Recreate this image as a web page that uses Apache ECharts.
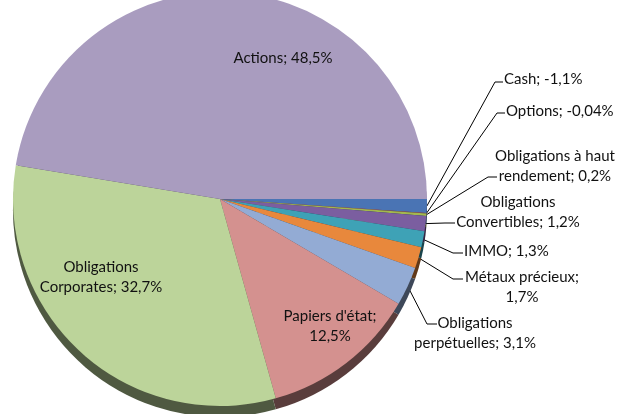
<!DOCTYPE html>
<html>
<head>
<meta charset="utf-8">
<script src="https://cdn.jsdelivr.net/npm/echarts@6/dist/echarts.min.js"></script>
<style>
  html, body { margin: 0; padding: 0; background: #fff; }
  #chart { width: 618px; height: 414px; }
</style>
</head>
<body>
<div id="chart"></div>
<script>
// slices in clockwise order, starting at 3 o'clock (as in the Excel chart)
const categories = ['Cash', 'Options', 'Obligations à haut rendement', 'Obligations Convertibles', 'IMMO',
  'Métaux précieux', 'Obligations perpétuelles', "Papiers d'état", 'Obligations Corporates', 'Actions'];
const weights = [-1.1, -0.04, 0.2, 1.2, 1.3, 1.7, 3.1, 12.5, 32.7, 48.5];
const weightLabels = ['-1,1%', '-0,04%', '0,2%', '1,2%', '1,3%', '1,7%', '3,1%', '12,5%', '32,7%', '48,5%'];
// how the category names wrap in the labels
const labelNames = ['Cash', 'Options', 'Obligations à haut\nrendement', 'Obligations\nConvertibles', 'IMMO',
  'Métaux précieux', 'Obligations\nperpétuelles', "Papiers d'état", 'Obligations\nCorporates', 'Actions'];
const breakAfterName = [false, false, false, false, false, true, false, true, false, false];

const colors = ['#4a74b4', '#c0504d', '#a3b84e', '#7b5ea0', '#3ea2b6', '#e8883c', '#93abd4', '#d4918f', '#bcd49a', '#a99cbf'];

// label placement (x, y, align) and leader tick [x0, x1, y] for outside labels
const labelPlace = [
  { x: 504, y: 79, align: 'left', tick: [495, 503, 82] },
  { x: 506, y: 111, align: 'left', tick: [497, 505, 113] },
  { x: 555, y: 166, align: 'center', tick: [488, 497, 177] },
  { x: 518, y: 212, align: 'center', tick: [445, 455, 223] },
  { x: 464, y: 251, align: 'left', tick: [453, 463, 253] },
  { x: 522, y: 287, align: 'center', tick: [453, 463, 279] },
  { x: 475, y: 333, align: 'center', tick: [427, 437, 324] },
  { x: 330, y: 326, align: 'center' },
  { x: 101, y: 277, align: 'center' },
  { x: 283, y: 58, align: 'center' }
];

function darken(hex, k) {
  const n = parseInt(hex.slice(1), 16);
  const r = Math.round(((n >> 16) & 255) * k);
  const g = Math.round(((n >> 8) & 255) * k);
  const b = Math.round((n & 255) * k);
  return 'rgb(' + r + ',' + g + ',' + b + ')';
}

const topData = categories.map((c, i) => ({
  name: c,
  value: Math.abs(weights[i]),
  itemStyle: { color: colors[i] },
  label: { position: labelPlace[i].tick ? 'outside' : 'inside' },
  labelLine: { show: !!labelPlace[i].tick }
}));
const sideData = categories.map((c, i) => ({
  name: c,
  value: Math.abs(weights[i]),
  itemStyle: { color: darken(colors[i], 0.42) }
}));

const chart = echarts.init(document.getElementById('chart'), null, { renderer: 'canvas' });
chart.setOption({
  animation: false,
  series: [
    {
      // side of the tilted pie
      type: 'pie',
      silent: true,
      center: [220, 210],
      radius: 207,
      startAngle: 0,
      clockwise: true,
      label: { show: false },
      labelLine: { show: false },
      data: sideData
    },
    {
      type: 'pie',
      center: [220, 199],
      radius: 207,
      startAngle: 0,
      clockwise: true,
      avoidLabelOverlap: false,
      minShowLabelAngle: 0,
      label: {
        show: true,
        color: '#111',
        fontFamily: 'Lato',
        fontSize: 15,
        lineHeight: 20,
        formatter: p => labelNames[p.dataIndex] + (breakAfterName[p.dataIndex] ? ';\n' : '; ') + weightLabels[p.dataIndex]
      },
      labelLine: {
        lineStyle: { color: '#000', width: 1 }
      },
      labelLayout: function (params) {
        const pl = labelPlace[params.dataIndex];
        const out = { x: pl.x, y: pl.y, align: pl.align, verticalAlign: 'middle' };
        if (pl.tick && params.labelLinePoints) {
          const start = params.labelLinePoints[0];
          out.labelLinePoints = [start, [pl.tick[0], pl.tick[2]], [pl.tick[1], pl.tick[2]]];
        }
        return out;
      },
      data: topData
    }
  ]
});
</script>
</body>
</html>
